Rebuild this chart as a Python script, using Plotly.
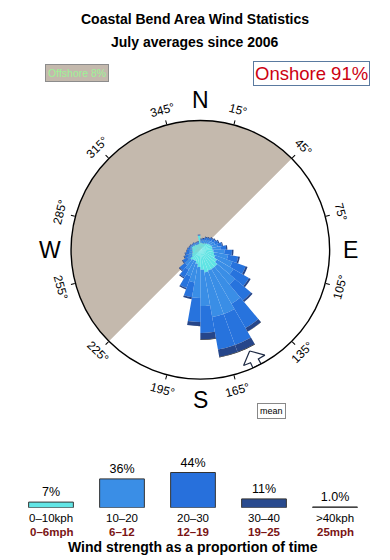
import math
import numpy as np
import plotly.graph_objects as go

# ---------------- data ----------------
title_line1 = "Coastal Bend Area Wind Statistics"
title_line2 = "July averages since 2006"

sector_centers = list(range(5, 360, 10))  # 36 sectors, 10 deg wide, bearing wind comes from

rose_0_10 = [0.07, 0.07, 0.07, 0.09, 0.11, 0.14, 0.17, 0.20, 0.20, 0.24, 0.28, 0.36,
             0.51, 0.68, 0.68, 0.68, 0.74, 0.56, 0.41, 0.28, 0.20, 0.20, 0.24, 0.14,
             0.11, 0.09, 0.09, 0.09, 0.11, 0.09, 0.07, 0.07, 0.05, 0.05, 0.05, 0.28]
rose_10_20 = [0.05, 0.06, 0.09, 0.10, 0.12, 0.14, 0.17, 0.23, 0.36, 0.57, 0.83, 1.27,
              1.52, 2.17, 4.73, 5.83, 5.76, 3.85, 2.84, 1.26, 0.90, 0.54, 0.33, 0.18,
              0.12, 0.10, 0.07, 0.05, 0.03, 0.04, 0.03, 0.03, 0.03, 0.03, 0.03, 0.02]
rose_20_30 = [0.04, 0.05, 0.09, 0.10, 0.12, 0.13, 0.17, 0.25, 0.37, 0.59, 0.96, 1.62,
              2.38, 3.28, 5.99, 7.85, 7.85, 5.28, 4.05, 1.71, 1.21, 0.68, 0.46, 0.26,
              0.18, 0.14, 0.10, 0.08, 0.04, 0.03, 0.03, 0.03, 0.02, 0.02, 0.02, 0.02]
rose_30_40 = [0.02, 0.03, 0.03, 0.03, 0.05, 0.05, 0.06, 0.06, 0.09, 0.14, 0.19, 0.28,
              0.32, 0.38, 1.04, 2.21, 2.21, 1.58, 0.83, 0.28, 0.17, 0.11, 0.08, 0.05,
              0.04, 0.03, 0.02, 0.02, 0.02, 0.02, 0.01, 0.01, 0.01, 0.01, 0.01, 0.01]
rose_40_plus = [0, 0, 0, 0, 0, 0, 0, 0, 0, 0, 0, 0,
                0, 0, 0.05, 0.15, 0.15, 0.13, 0.04, 0, 0, 0, 0, 0,
                0, 0, 0, 0, 0, 0, 0, 0, 0, 0, 0, 0]
rose_classes = [rose_0_10, rose_10_20, rose_20_30, rose_30_40, rose_40_plus]
rose_max_pct = 23.4          # cumulative percent at the outer circle
mean_direction = 154         # degrees

offshore_from, offshore_to = 225, 45
offshore_pct = 8
onshore_pct = 91

compass_points = ["N", "E", "S", "W"]
compass_angles = [0, 90, 180, 270]
degree_ticks = list(range(15, 360, 30))

speed_kph = ["0\u201310kph", "10\u201320", "20\u201330", "30\u201340", ">40kph"]
speed_mph = ["0\u20136mph", "6\u201312", "12\u201319", "19\u201325", "25mph"]
speed_share = [7, 36, 44, 11, 1.0]
share_labels = ["7%", "36%", "44%", "11%", "1.0%"]

# ---------------- style ----------------
W, H = 390, 560
CX, CY, R = 200.35, 249.85, 129.3     # compass circle in pixels (from top-left)
class_colors = ["#60E4E4", "#3A8EE6", "#2773DD", "#26468A", "#000000"]
bar_colors = ["#62E6E6", "#3A8EE6", "#2770DC", "#284A8E", "#000000"]
FONT = "Liberation Sans, Arial, Helvetica, sans-serif"


def paper(bearing, rpx):
    b = math.radians(bearing)
    x = CX + rpx * math.sin(b)
    y = CY - rpx * math.cos(b)
    return x / W, 1 - y / H


def note(text, x, y, size, color="black", xref="paper", **kw):
    return dict(text=text, x=x, y=y, xref=xref, yref="paper", showarrow=False,
                xanchor="center", yanchor="middle",
                font=dict(size=size, color=color, family=FONT), **kw)


dom_x = [(CX - R) / W, (CX + R) / W]
dom_y = [1 - (CY + R) / H, 1 - (CY - R) / H]
rmax = math.sqrt(rose_max_pct)

fig = go.Figure()

# offshore half (bottom polar)
span = (offshore_to - offshore_from) % 360
fig.add_trace(go.Barpolar(
    r=[rmax], theta=[(offshore_from + span / 2) % 360], width=[span],
    marker=dict(color="#C4B9AD", line=dict(width=0)),
    subplot="polar", hoverinfo="skip", showlegend=False))

# rose (top polar) -- area-proportional radii of cumulative frequencies
cum = np.zeros(len(sector_centers))
for vals, col in zip(rose_classes, class_colors):
    prev = np.sqrt(cum)
    cum = cum + np.array(vals, dtype=float)
    top = np.sqrt(cum)
    fig.add_trace(go.Barpolar(
        r=top - prev, base=prev, theta=sector_centers, width=[10] * len(sector_centers),
        marker=dict(color=col, line=dict(width=0)),
        subplot="polar2", hoverinfo="skip", showlegend=False))

# mean arrow (outlined, pointing to the centre)
m = mean_direction
arrow_theta = [m, m + 5.5, m + 2.0, m + 2.0, m - 2.0, m - 2.0, m - 5.5, m]
arrow_frac = [0.87, 0.955, 0.955, 1.0, 1.0, 0.955, 0.955, 0.87]
fig.add_trace(go.Scatterpolar(
    r=[f * rmax for f in arrow_frac], theta=arrow_theta, mode="lines",
    fill="toself", fillcolor="white", line=dict(color="#1E2A44", width=1.2),
    subplot="polar2", hoverinfo="skip", showlegend=False))

# wind strength bars
fig.add_trace(go.Bar(
    x=list(range(len(speed_share))), y=speed_share, width=0.63,
    marker=dict(color=bar_colors, line=dict(color="#333333", width=1)),
    text=share_labels, textposition="outside", cliponaxis=False, constraintext="none",
    textfont=dict(size=12.5, color="black", family=FONT),
    xaxis="x", yaxis="y", hoverinfo="skip", showlegend=False))

common_polar = dict(domain=dict(x=dom_x, y=dom_y), barmode="overlay",
                    radialaxis=dict(visible=False, range=[0, rmax]))
annotations = []

# titles
annotations.append(note(f"<b>{title_line1}</b>", 195 / W, 1 - 19 / H, 14))
annotations.append(note(f"<b>{title_line2}</b>", 195 / W, 1 - 42 / H, 14))

# offshore / onshore boxes
annotations.append(note(f"Offshore {offshore_pct}%", 77 / W, 1 - 73.5 / H, 10.5, "#9EF296",
                        bgcolor="#C4B9AD", bordercolor="#8C8C8C", borderwidth=1, borderpad=2))
annotations.append(note(f"Onshore {onshore_pct}%", 311.5 / W, 1 - 73.2 / H, 18.5, "#CC0011",
                        bgcolor="white", bordercolor="#5A7AA0", borderwidth=1, borderpad=1))

# compass letters
for lab, ang in zip(compass_points, compass_angles):
    x, y = paper(ang, 150)
    annotations.append(note(lab, x, y, 23))

# degree labels (tangential)
for d in degree_ticks:
    x, y = paper(d, 145)
    ang = d if d < 90 else (d - 180 if d < 270 else d - 360)
    annotations.append(note(f"{d}\u00b0", x, y, 12, textangle=ang))

# mean label
annotations.append(note("mean", 271.7 / W, 1 - 410.8 / H, 9,
                        bgcolor="white", bordercolor="#888888", borderwidth=1, borderpad=2))

# speed class labels under the bars
for i, (k, mph) in enumerate(zip(speed_kph, speed_mph)):
    annotations.append(note(k, i, 1 - 518 / H, 11.5, xref="x"))
    annotations.append(note(f"<b>{mph}</b>", i, 1 - 531.5 / H, 11.5, "#7A1414", xref="x"))
annotations.append(note("<b>Wind strength as a proportion of time</b>", 193 / W, 1 - 546.5 / H, 14))

fig.update_layout(
    width=W, height=H, margin=dict(l=0, r=0, t=0, b=0),
    paper_bgcolor="white", plot_bgcolor="rgba(0,0,0,0)",
    font=dict(family=FONT),
    polar=dict(**common_polar, bgcolor="white",
               angularaxis=dict(visible=False, direction="clockwise", rotation=90)),
    polar2=dict(**common_polar, bgcolor="rgba(0,0,0,0)",
                angularaxis=dict(direction="clockwise", rotation=90, showline=True, linecolor="black",
                                 linewidth=1.4, showgrid=False, ticks="outside", ticklen=4,
                                 tickcolor="black", tickwidth=1, tickvals=degree_ticks,
                                 showticklabels=False)),
    xaxis=dict(domain=[15.5 / W, 370.5 / W], range=[-0.5, len(speed_share) - 0.5], visible=False,
               fixedrange=True),
    yaxis=dict(domain=[52.3 / H, 92.3 / H], range=[0, 50], visible=False, fixedrange=True),
    annotations=annotations,
    showlegend=False,
)

fig.write_html("out.html")
